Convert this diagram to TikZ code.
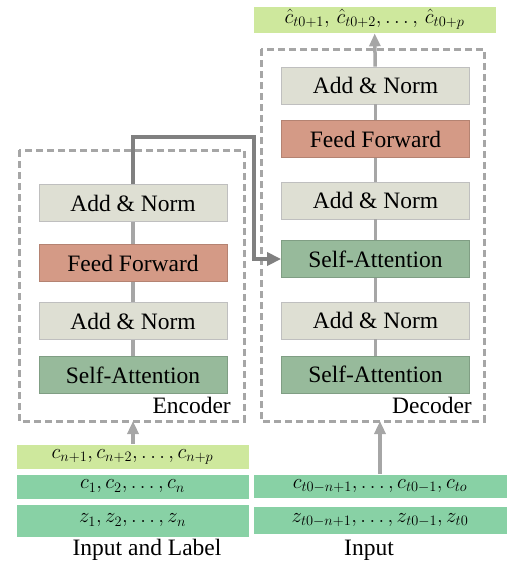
\documentclass[tikz,border=0pt]{standalone}
\usepackage{fontspec}
\setmainfont{Liberation Serif}
\usetikzlibrary{arrows.meta}

\definecolor{normcol}{HTML}{DEDFD3}
\definecolor{ffcol}{HTML}{D49A86}
\definecolor{attcol}{HTML}{97BA9B}
\definecolor{rowcol}{HTML}{88D1A5}
\definecolor{limecol}{HTML}{CEE89D}
\definecolor{dashcol}{HTML}{A6A6A6}

\begin{document}
\begin{tikzpicture}[x=1pt, y=-1pt,
    block/.style = {shape=rectangle, draw=black!25, line width=0.8pt,
      minimum width=188pt, minimum height=37pt, inner sep=0pt,
      font=\fontsize{23.5}{28}\selectfont},
    addnorm/.style = {block, fill=normcol},
    feedfwd/.style = {block, fill=ffcol, draw=ffcol!85!black},
    selfatt/.style = {block, fill=attcol, draw=attcol!85!black},
    datarow/.style = {shape=rectangle, draw=white, line width=0.6pt, inner sep=0pt,
      font=\fontsize{21}{24}\selectfont},
    caption/.style = {inner sep=0pt, font=\fontsize{23.5}{28}\selectfont},
    frame/.style = {draw=dashcol, line width=3pt, dash pattern=on 7pt off 4pt},
    link/.style = {draw=dashcol, line width=3.5pt},
    feed/.style = {link, -{Triangle[length=13pt,width=11pt]}},
    memory/.style = {draw=black!50, line width=4pt, -{Triangle[length=14pt,width=13pt]}}]
  \useasboundingbox (0,0) rectangle (507,566);

  % encoder and decoder frames
  \draw[frame] (19,150) rectangle (244,421);
  \draw[frame] (261,49) rectangle (484,421);

  % encoder
  \node[addnorm] (enAN2) at (133,203) {Add \& Norm};
  \node[feedfwd] (enFF) at (133,263) {Feed Forward};
  \node[addnorm] (enAN1) at (133,321) {Add \& Norm};
  \node[selfatt] (enSA) at (133,375) {Self-Attention};
  \node[caption, anchor=base east] (enName) at (231,413) {Encoder};

  % decoder
  \node[addnorm] (deAN3) at (375.5,85.5) {Add \& Norm};
  \node[feedfwd] (deFF) at (375.5,139) {Feed Forward};
  \node[addnorm] (deAN2) at (375.5,200.5) {Add \& Norm};
  \node[selfatt] (deSA2) at (375.5,259) {Self-Attention};
  \node[addnorm] (deAN1) at (375.5,320.5) {Add \& Norm};
  \node[selfatt] (deSA1) at (375.5,374.5) {Self-Attention};
  \node[caption, anchor=base east] (deName) at (472,413) {Decoder};

  % inputs and output
  \node[datarow, fill=limecol, minimum width=243pt, minimum height=27pt] (outRow) at (374.5,19.5)
    {$\hat{c}_{t0+1},\, \hat{c}_{t0+2},\ldots,\,\hat{c}_{t0+p}$};
  \node[datarow, fill=limecol, minimum width=233pt, minimum height=25pt] (labRow) at (132.5,456.5)
    {$c_{n+1}, c_{n+2},\ldots, c_{n+p}$};
  \node[datarow, fill=rowcol, minimum width=233pt, minimum height=25pt] (encC) at (132.5,486.5)
    {$c_1, c_2,\ldots, c_n$};
  \node[datarow, fill=rowcol, minimum width=233pt, minimum height=33pt] (encZ) at (132.5,520.5)
    {$z_1, z_2,\ldots, z_n$};
  \node[datarow, fill=rowcol, minimum width=254pt, minimum height=24pt] (decC) at (380,486)
    {$c_{t0-n+1},\ldots, c_{t0-1}, c_{to}$};
  \node[datarow, fill=rowcol, minimum width=254pt, minimum height=28pt] (decZ) at (380,520)
    {$z_{t0-n+1},\ldots, z_{t0-1}, z_{t0}$};
  \node[caption] (encIn) at (147,550) {Input and Label};
  \node[caption] (decIn) at (369,550) {Input};

  % links inside the stacks
  \draw[link] (enAN2) -- (enFF);
  \draw[link] (enFF) -- (enAN1);
  \draw[link] (enAN1) -- (enSA);
  \draw[link] (deFF) -- (deAN3);
  \draw[link] (deAN2) -- (deFF);
  \draw[link] (deSA2) -- (deAN2);
  \draw[link] (deAN1) -- (deSA2);
  \draw[link] (deSA1) -- (deAN1);

  % data flow
  \coordinate (encTop) at (133,421);
  \coordinate (decTop) at (380,421);
  \coordinate (bend) at (254,137);
  \draw[feed] (labRow.north -| encTop) -- (encTop);
  \draw[feed] (decC.north) -- (decTop);
  \draw[feed] (deAN3) -- (outRow);
  \draw[memory] (enAN2.north) |- (bend) |- (deSA2.west);
\end{tikzpicture}
\end{document}
